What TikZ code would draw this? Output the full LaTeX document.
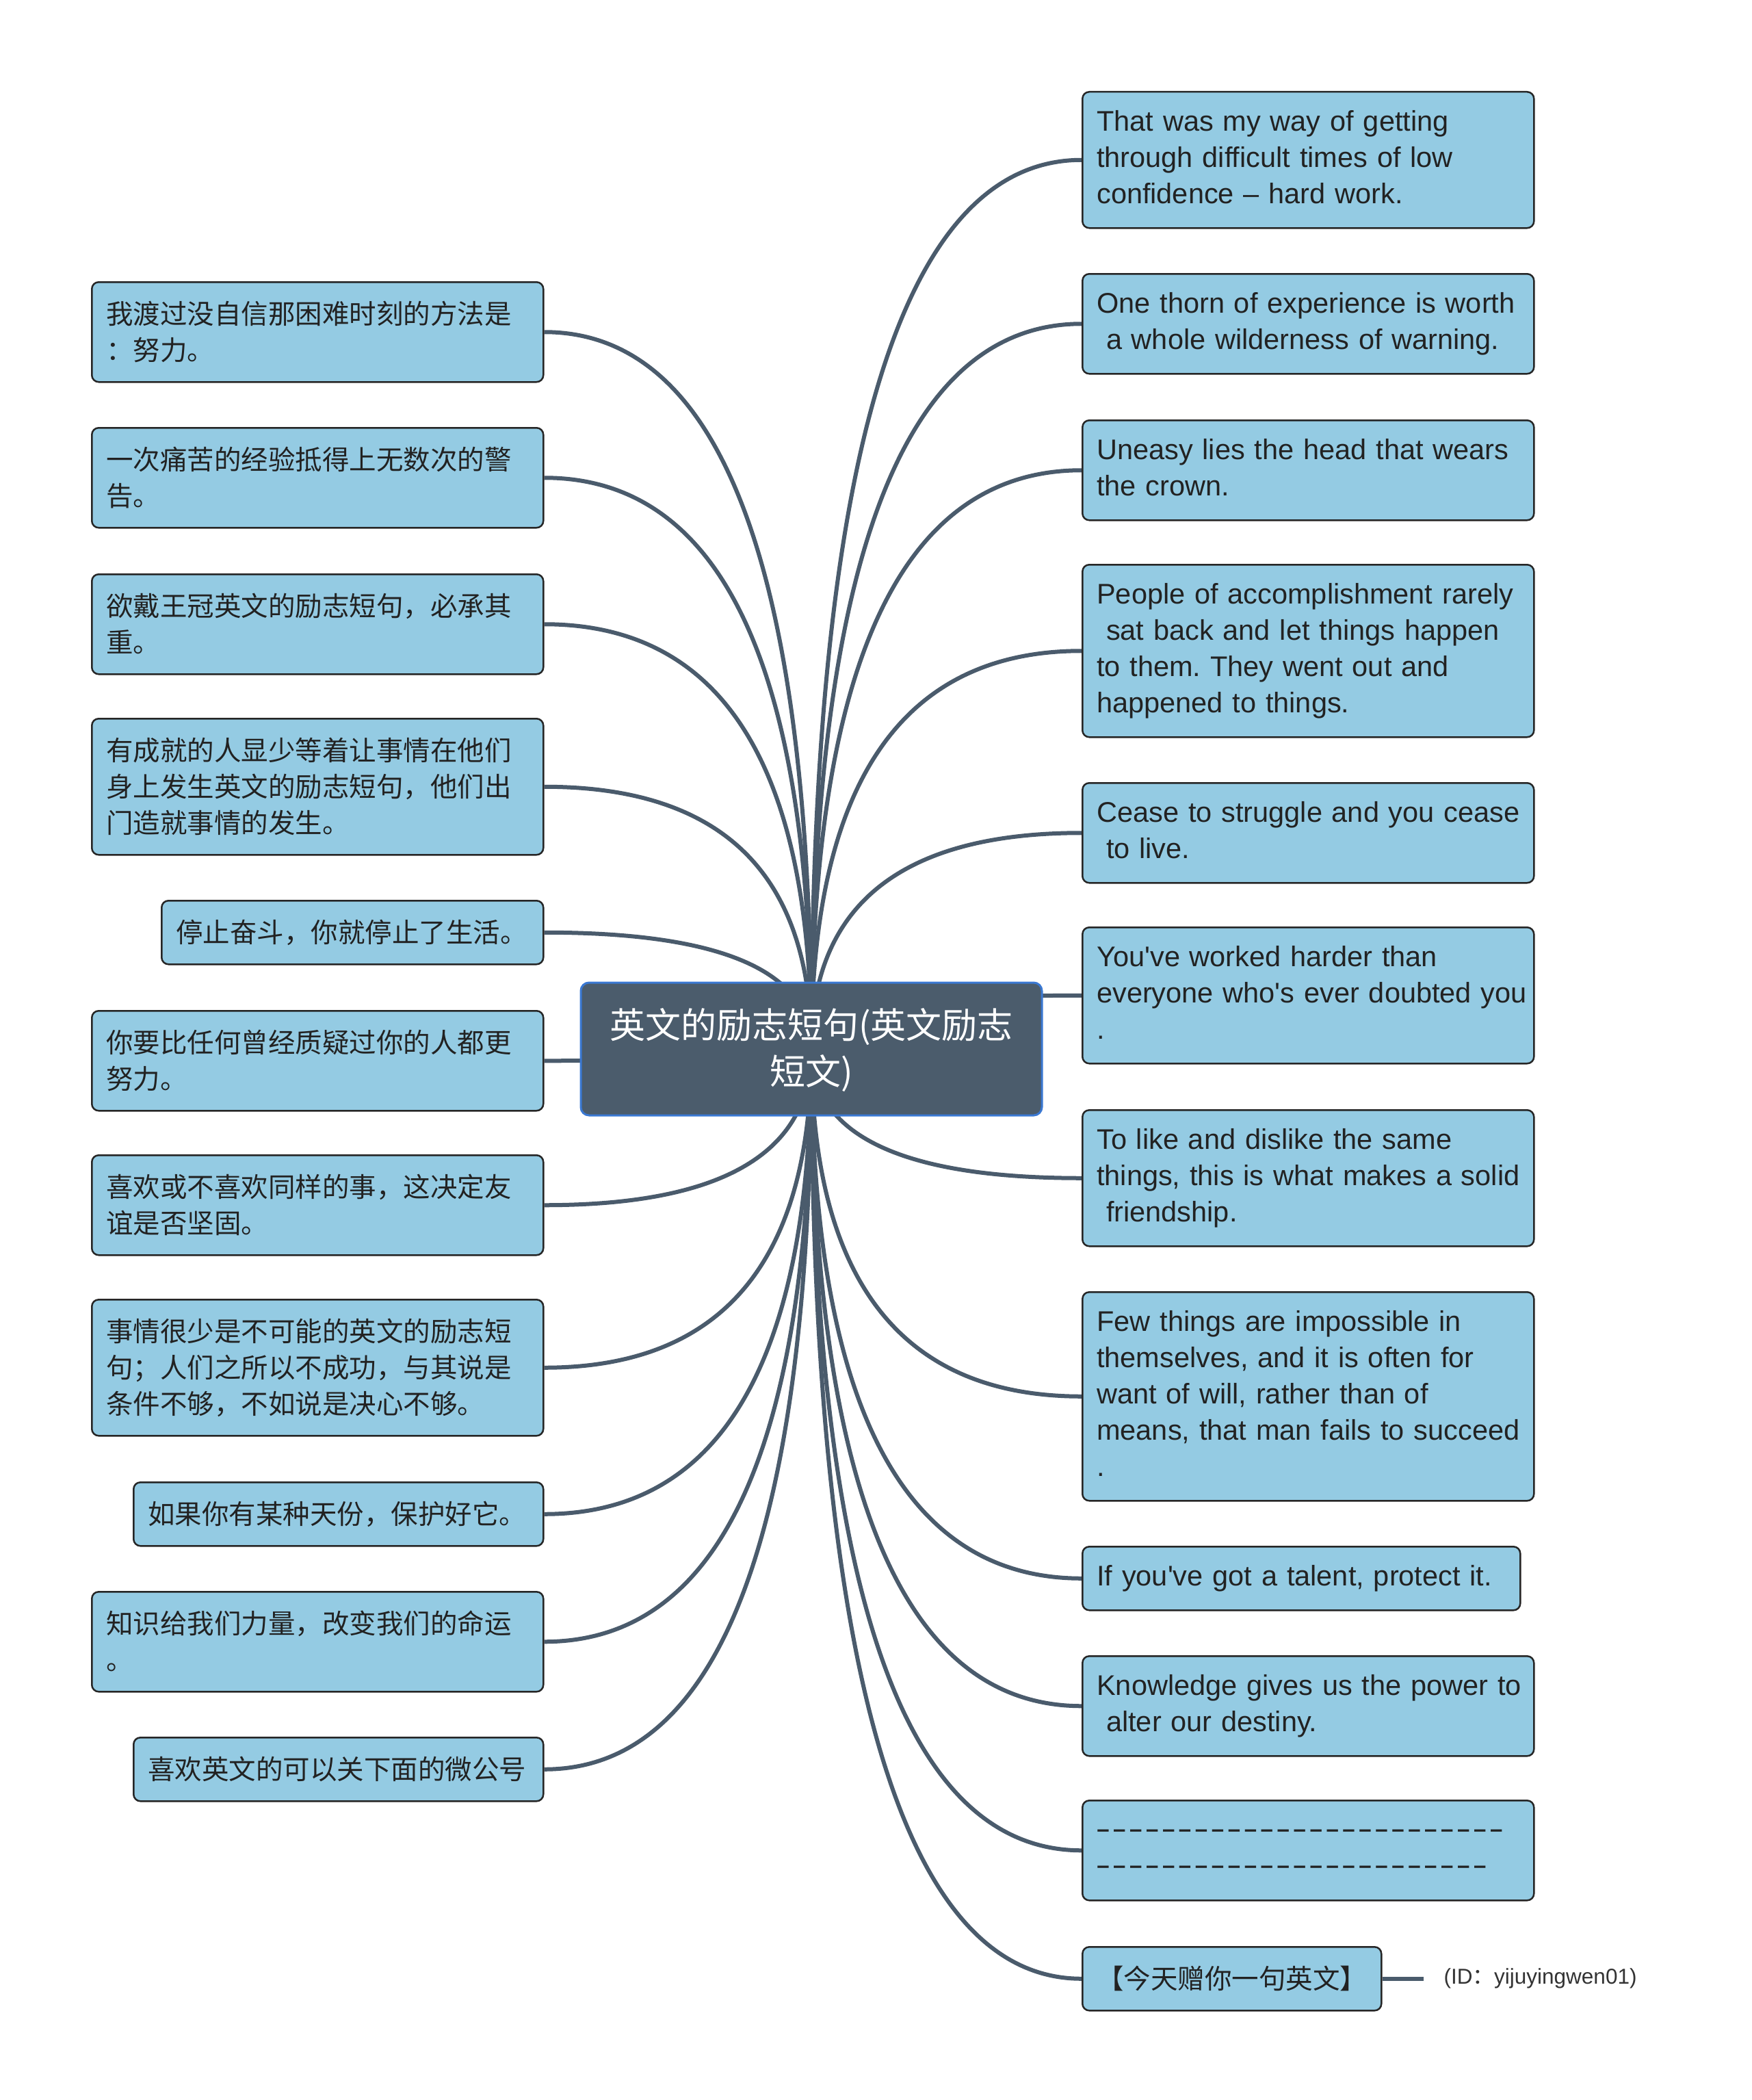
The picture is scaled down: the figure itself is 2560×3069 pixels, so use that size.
\documentclass[tikz,border=0pt]{standalone}
\usepackage{fontspec}
\setmainfont{Liberation Sans}
\newfontfamily\cjk{Noto Sans CJK SC}
\usetikzlibrary{calc}
\frenchspacing
\definecolor{boxfill}{RGB}{148,203,227}
\definecolor{boxline}{RGB}{38,38,38}
\definecolor{conncol}{RGB}{74,91,108}
\definecolor{centerfill}{RGB}{75,92,108}
\definecolor{centerline}{RGB}{58,120,210}
\definecolor{txt}{RGB}{34,34,34}
\definecolor{idtxt}{RGB}{51,51,51}
\pgfdeclarelayer{bg}
\pgfsetlayers{bg,main}
\newcommand\es{\vrule height37pt depth16pt width0pt\relax}
\newcommand\cs{\vrule height41pt depth12pt width0pt\relax}
\newcommand\hs{\vrule height52pt depth16pt width0pt\relax}
\newcommand\myen[1]{\mbox{\es#1}}
\newcommand\mycn[1]{\mbox{\cs#1}}
\newcommand\mydk{\raisebox{4pt}{\bfseries\fontsize{33}{53}\selectfont –}\kern5.6pt}
\tikzset{
  leaf/.style={draw=boxline, line width=2.5pt, fill=boxfill, rounded corners=10pt,
    anchor=north west, inner xsep=21pt, inner ysep=20pt, align=left, text=txt},
  en/.style={leaf, font=\fontsize{41.5}{53}\selectfont, text width=#1},
  en/.default=618pt,
  cn/.style={leaf, font=\cjk\fontsize{39.5}{53}\selectfont, text width=#1},
  cn/.default=618pt,
  conn/.style={draw=conncol, line width=6pt},
  hub/.style={draw=centerline, line width=3pt, fill=centerfill, rounded corners=12pt,
    minimum width=674pt, minimum height=194pt, inner sep=0pt, text width=640pt,
    align=center, text=white, font=\cjk\fontsize{52}{68}\selectfont},
  idnote/.style={anchor=west, inner xsep=30pt, inner ysep=4pt, text=idtxt,
    font=\fontsize{31.5}{38}\selectfont}
}
\begin{document}
\begin{tikzpicture}[x=1pt,y=-1pt]
\useasboundingbox (0,0) rectangle (2560,3069);

\node[hub] (c) at (1186,1533) {\mbox{\hs 英文的励志短句(英文励志}\\\mbox{\hs 短文)}};

% left branch
\node[cn] (L1) at (133,411) {\mycn{我渡过没自信那困难时刻的方法是}\\\mycn{：努力。}};
\node[cn] (L2) at (133,624) {\mycn{一次痛苦的经验抵得上无数次的警}\\\mycn{告。}};
\node[cn] (L3) at (133,838) {\mycn{欲戴王冠英文的励志短句，必承其}\\\mycn{重。}};
\node[cn] (L4) at (133,1049) {\mycn{有成就的人显少等着让事情在他们}\\\mycn{身上发生英文的励志短句，他们出}\\\mycn{门造就事情的发生。}};
\node[cn=516pt] (L5) at (235,1315) {\mycn{停止奋斗，你就停止了生活。}};
\node[cn] (L6) at (133,1476) {\mycn{你要比任何曾经质疑过你的人都更}\\\mycn{努力。}};
\node[cn] (L7) at (133,1687) {\mycn{喜欢或不喜欢同样的事，这决定友}\\\mycn{谊是否坚固。}};
\node[cn] (L8) at (133,1898) {\mycn{事情很少是不可能的英文的励志短}\\\mycn{句；人们之所以不成功，与其说是}\\\mycn{条件不够，不如说是决心不够。}};
\node[cn=557pt] (L9) at (194,2165) {\mycn{如果你有某种天份，保护好它。}};
\node[cn] (L10) at (133,2325) {\mycn{知识给我们力量，改变我们的命运}\\\mycn{。}};
\node[cn=557pt] (L11) at (194,2538) {\mycn{喜欢英文的可以关下面的微公号}};

% right branch
\node[en] (R1) at (1581,133) {\myen{That was my way of getting}\\\myen{through difficult times of low}\\\myen{confidence – hard work.}};
\node[en] (R2) at (1581,399) {\myen{One thorn of experience is worth}\\\myen{\ a whole wilderness of warning.}};
\node[en] (R3) at (1581,613) {\myen{Uneasy lies the head that wears}\\\myen{the crown.}};
\node[en] (R4) at (1581,824) {\myen{People of accomplishment rarely}\\\myen{\ sat back and let things happen}\\\myen{to them. They went out and}\\\myen{happened to things.}};
\node[en] (R5) at (1581,1143) {\myen{Cease to struggle and you cease}\\\myen{\ to live.}};
\node[en] (R6) at (1581,1354) {\myen{You\textquotesingle ve worked harder than}\\\myen{everyone who\textquotesingle s ever doubted you}\\\myen{.}};
\node[en] (R7) at (1581,1621) {\myen{To like and dislike the same}\\\myen{things, this is what makes a solid}\\\myen{\ friendship.}};
\node[en] (R8) at (1581,1887) {\myen{Few things are impossible in}\\\myen{themselves, and it is often for}\\\myen{want of will, rather than of}\\\myen{means, that man fails to succeed}\\\myen{.}};
\node[en=598pt] (R9) at (1581,2259) {\myen{If you\textquotesingle ve got a talent, protect it.}};
\node[en] (R10) at (1581,2419) {\myen{Knowledge gives us the power to}\\\myen{\ alter our destiny.}};
\node[en] (R11) at (1581,2630) {\myen{\mydk\mydk\mydk\mydk\mydk\mydk\mydk\mydk\mydk\mydk\mydk\mydk\mydk\mydk\mydk\mydk\mydk\mydk\mydk\mydk\mydk\mydk\mydk\mydk\mydk}\\\myen{\mydk\mydk\mydk\mydk\mydk\mydk\mydk\mydk\mydk\mydk\mydk\mydk\mydk\mydk\mydk\mydk\mydk\mydk\mydk\mydk\mydk\mydk\mydk\mydk}};
\node[cn=395pt] (R12) at (1581,2844) {\mycn{【今天赠你一句英文】}};

\node[idnote] (id) at ([xshift=60pt]R12.east) {(ID{\cjk ：}yijuyingwen01)};

\begin{pgfonlayer}{bg}
  \fill[white] (0,0) rectangle (2560,3069);
  \foreach \i in {1,...,11}{
    \draw[conn] (c.center) .. controls ($(c.center)!2/3!(c.center|-L\i.east)$)
      and ($(L\i.east)!2/3!(c.center|-L\i.east)$) .. (L\i.east);
  }
  \foreach \i in {1,...,12}{
    \draw[conn] (c.center) .. controls ($(c.center)!2/3!(c.center|-R\i.west)$)
      and ($(R\i.west)!2/3!(c.center|-R\i.west)$) .. (R\i.west);
  }
  \draw[conn] (R12.east) -- (id.west);
\end{pgfonlayer}
\end{tikzpicture}
\end{document}
